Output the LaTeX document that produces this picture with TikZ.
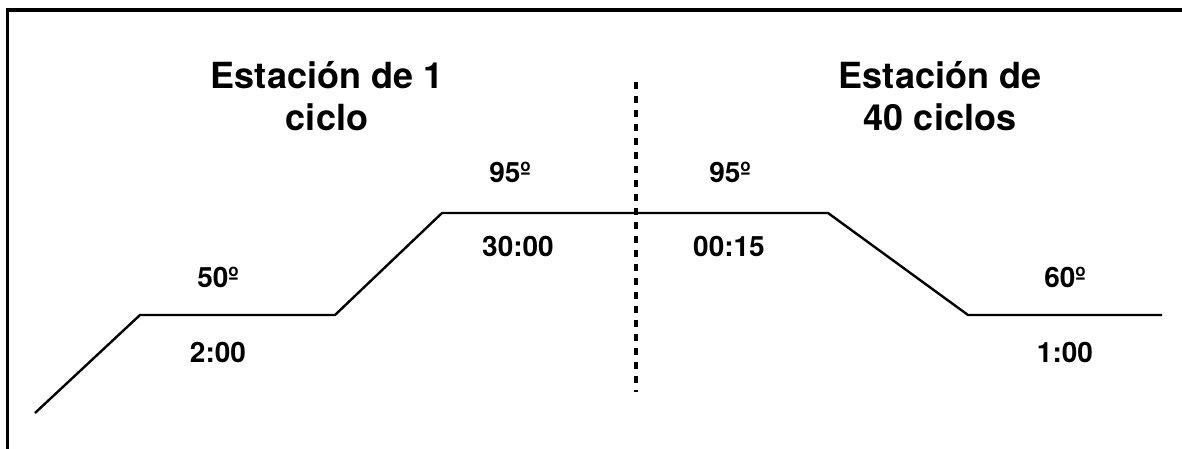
\documentclass[tikz,border=0pt]{standalone}
\usepackage{fontspec}
\setmainfont{TeX Gyre Heros}
\begin{document}
\begin{tikzpicture}[x=0.75pt,y=-0.75pt,
  title/.style={font=\bfseries\fontsize{27}{32}\selectfont, align=center, anchor=base, inner sep=0pt},
  lbl/.style={font=\bfseries\fontsize{21}{24}\selectfont, anchor=base, inner sep=0pt},
  profile/.style={line width=1.8pt, line join=miter},
  frame/.style={line width=2.4pt},
  divider/.style={line width=3pt, dash pattern=on 5pt off 5.5pt}]
\useasboundingbox (0,0) rectangle (1182,449);
% frame (top and left edges)
\coordinate (fbl) at (7.5,449);
\coordinate (ftl) at (7.5,10);
\coordinate (ftr) at (1182,10);
\draw[frame] (fbl) -- (ftl) -- (ftr);
% divider
\coordinate (dtop) at (636,82);
\coordinate (dbot) at (636,392);
\draw[divider] (dtop) -- (dbot);
% temperature profile
\coordinate (p0) at (35,413);
\coordinate (p1) at (140,315);
\coordinate (p2) at (335,315);
\coordinate (p3) at (442,213);
\coordinate (p4) at (828,213);
\coordinate (p5) at (968,315);
\coordinate (p6) at (1162,315);
\draw[profile] (p0) -- (p1) -- (p2) -- (p3) -- (p4) -- (p5) -- (p6);
% titles
\node[title] (t1a) at (327,89) {Estación de 1};
\node[title] (t1b) at (327,131) {ciclo};
\node[title] (t2a) at (940,89) {Estación de};
\node[title] (t2b) at (940,131) {40 ciclos};
% labels
\node[lbl] (l50) at (218,287) {50º};
\node[lbl] (l200) at (218,362) {2:00};
\node[lbl] (l95a) at (510,183) {95º};
\node[lbl] (l3000) at (518,257) {30:00};
\node[lbl] (l95b) at (730,183) {95º};
\node[lbl] (l0015) at (729,257) {00:15};
\node[lbl] (l60) at (1065,287) {60º};
\node[lbl] (l100) at (1065,362) {1:00};
\end{tikzpicture}
\end{document}
